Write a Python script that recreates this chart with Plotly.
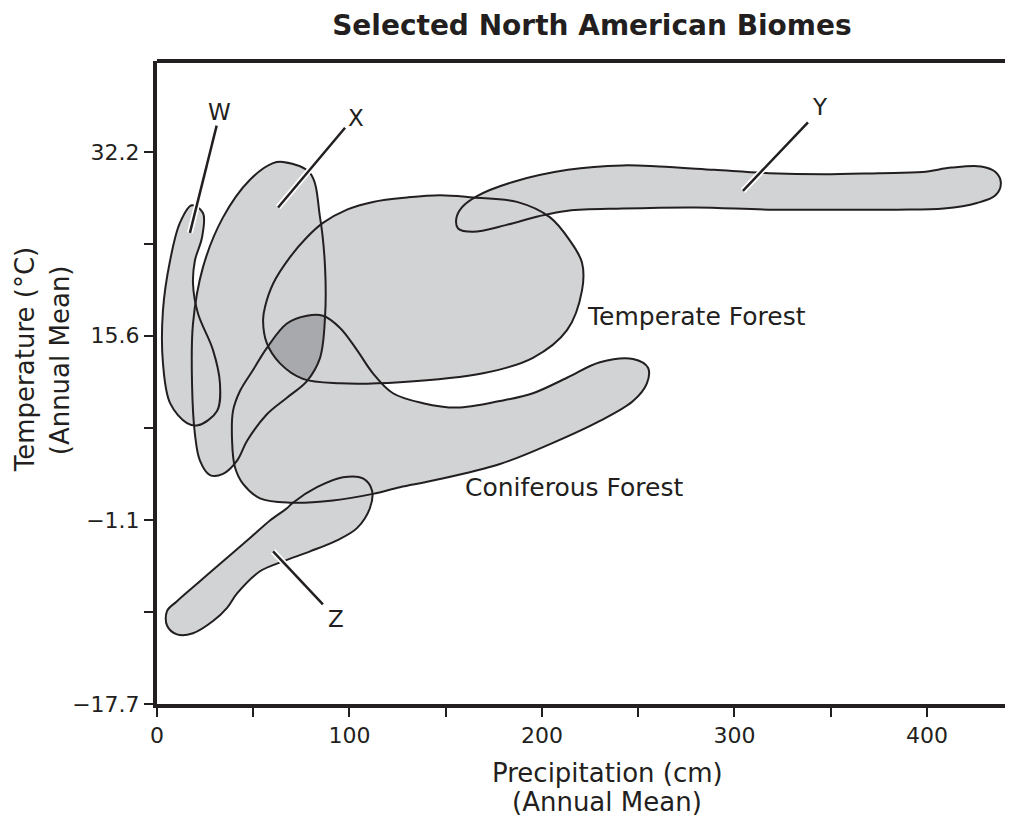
import plotly.graph_objects as go

# biome outlines: precipitation (cm), temperature (deg C)
w_precip = [18.0, 23.9, 23.4, 19.7, 18.7, 21.3, 29.1, 32.7, 31.2, 21.3, 15.6, 6.8, 3.1, 3.1, 6.8, 11.9, 18.0]
w_temp = [27.4, 26.7, 24.5, 22.4, 20.3, 17.6, 14.3, 11.3, 8.8, 7.5, 7.7, 9.5, 13.1, 17.9, 22.4, 25.8, 27.4]

x_precip = [65.5, 79.5, 84.7, 87.3, 87.3, 84.7, 77.9, 67.5, 57.1, 46.8, 41.6, 34.3, 27.5, 22.3, 19.7,
            18.2, 18.7, 23.9, 34.3, 48.3, 60.3, 65.5]
x_temp = [31.3, 30.3, 26.3, 21.8, 17.3, 13.6, 11.5, 10.0, 8.5, 6.1, 4.3, 3.1, 3.0, 4.3, 6.7,
          11.3, 16.7, 21.8, 26.3, 29.7, 31.2, 31.3]

y_precip = [166.0, 184.9, 213.5, 241.9, 260.8, 289.4, 317.9, 346.4, 374.9, 397.7, 412.8, 428.1, 435.6,
            438.4, 435.6, 426.0, 408.8, 384.4, 355.8, 317.9, 279.9, 241.9, 213.5, 198.3, 181.2,
            164.1, 156.4, 155.5, 158.4, 166.0]
y_temp = [28.2, 29.5, 30.6, 31.0, 30.9, 30.6, 30.3, 30.2, 30.3, 30.4, 30.8, 30.9, 30.4,
          29.4, 28.3, 27.6, 27.1, 27.0, 27.0, 27.0, 27.2, 27.1, 26.9, 26.4, 25.6,
          25.0, 25.3, 26.2, 27.2, 28.2]

z_precip = [70.6, 83.1, 96.6, 107.0, 111.7, 110.6, 103.9, 93.5, 79.5, 65.5, 53.5, 41.6, 36.4, 29.1,
            18.7, 10.4, 5.2, 5.2, 10.4, 22.3, 34.3, 48.3, 58.7, 67.5, 70.6]
z_temp = [0.5, 1.9, 2.8, 2.7, 1.6, 0.0, -1.8, -2.9, -3.9, -4.8, -5.7, -7.7, -9.0, -10.2,
          -11.3, -11.4, -10.6, -9.3, -8.4, -6.6, -4.8, -2.7, -1.1, 0.0, 0.5]

temperate_precip = [147.0, 164.2, 187.0, 204.2, 214.5, 220.8, 220.8, 213.0, 195.3, 169.4, 126.2, 95.1,
                    75.8, 63.9, 57.1, 55.1, 56.1, 60.3, 69.1, 77.9, 86.2, 98.7, 112.2, 129.9, 147.0]
temperate_temp = [28.3, 28.1, 27.7, 26.3, 24.2, 22.2, 19.7, 16.1, 13.6, 12.2, 11.4, 11.3,
                  11.7, 13.1, 14.9, 17.0, 18.2, 20.3, 22.7, 24.5, 25.8, 27.0, 27.7, 28.1, 28.3]

conifer_precip = [39.0, 39.5, 43.1, 49.9, 57.1, 67.5, 77.9, 86.2, 95.1, 103.9, 112.2, 122.6, 138.2,
                  155.8, 178.2, 195.3, 213.0, 230.1, 247.3, 255.1, 254.5, 247.3, 230.1, 204.2,
                  178.2, 143.4, 126.2, 112.2, 91.4, 69.1, 53.5, 44.7, 40.5, 39.0]
conifer_temp = [6.1, 8.8, 10.6, 12.5, 14.5, 16.7, 17.4, 17.4, 16.3, 14.3, 12.2, 10.4, 9.5,
                9.1, 9.7, 10.4, 11.8, 13.2, 13.5, 12.7, 11.3, 9.7, 7.9, 5.8,
                4.0, 2.5, 1.9, 1.3, 0.7, 0.5, 0.9, 2.2, 3.7, 6.1]

# region shared by X, temperate and coniferous forest (darker shade)
overlap_precip = [57.7, 63.9, 72.7, 81.0, 86.8, 86.2, 83.6, 78.4, 69.1, 62.3, 57.7]
overlap_temp = [14.7, 16.1, 17.3, 17.5, 17.3, 14.9, 13.1, 11.6, 12.2, 13.4, 14.7]

# leader lines for the letter labels: (precip start, precip end), (temp start, temp end), label pos
leaders = {
    "W": ([17.1, 31.0], [24.9, 34.6], (32.7, 35.8)),
    "X": ([62.9, 97.7], [27.2, 34.4], (103.4, 35.3)),
    "Y": ([304.4, 338.2], [28.7, 34.9], (344.4, 36.3)),
    "Z": ([60.3, 86.2], [-3.9, -8.7], (93.0, -10.0)),
}

y_ticks = [-17.7, -9.4, -1.1, 7.25, 15.6, 23.9, 32.2]
y_ticktext = ["\u221217.7", "", "\u22121.1", "", "15.6", "", "32.2"]
x_ticks = [0, 50, 100, 150, 200, 250, 300, 350, 400]
x_ticktext = ["0", "", "100", "", "200", "", "300", "", "400"]

LIGHT = "#d1d3d4"
DARK = "#a7a9ac"
INK = "#231f20"
FONT = "DejaVu Sans"

shapes = [
    (w_precip, w_temp),
    (x_precip, x_temp),
    (y_precip, y_temp),
    (z_precip, z_temp),
    (temperate_precip, temperate_temp),
    (conifer_precip, conifer_temp),
]

fig = go.Figure()

# fills first so every outline stays visible on top
for px_, ty in shapes:
    fig.add_trace(go.Scatter(x=px_, y=ty, mode="lines", fill="toself", fillcolor=LIGHT,
                             line=dict(width=0, shape="spline", smoothing=1), hoverinfo="skip"))
fig.add_trace(go.Scatter(x=overlap_precip, y=overlap_temp, mode="lines", fill="toself",
                         fillcolor=DARK, line=dict(width=0, shape="spline", smoothing=0.6),
                         hoverinfo="skip"))
for px_, ty in shapes:
    fig.add_trace(go.Scatter(x=px_, y=ty, mode="lines",
                             line=dict(color=INK, width=2, shape="spline", smoothing=1),
                             hoverinfo="skip"))

annotations = []
for name, (lx, ly, pos) in leaders.items():
    fig.add_trace(go.Scatter(x=lx, y=ly, mode="lines", line=dict(color="white", width=6),
                             hoverinfo="skip"))
    fig.add_trace(go.Scatter(x=lx, y=ly, mode="lines", line=dict(color=INK, width=2.5),
                             hoverinfo="skip"))
    annotations.append(dict(x=pos[0], y=pos[1], text=name, showarrow=False,
                            font=dict(family=FONT, size=23, color=INK)))


def label(text, size=25, **kw):
    return dict(text=text, showarrow=False, font=dict(family=FONT, size=size, color=INK), **kw)


annotations += [
    label("Temperate Forest", x=222.5, y=17.3, xanchor="left"),
    label("Coniferous Forest", x=159.0, y=1.9, xanchor="left"),
    label("Precipitation (cm)", size=26, x=234, y=-0.107, yref="paper",
          xanchor="center", yanchor="middle"),
    label("(Annual Mean)", size=26, x=234, y=-0.152, yref="paper",
          xanchor="center", yanchor="middle"),
    label("Temperature (\u00b0C)", size=26, x=-0.154, y=0.535, xref="paper", yref="paper",
          textangle=-90, xanchor="center", yanchor="middle"),
    label("(Annual Mean)", size=26, x=-0.113, y=0.535, xref="paper", yref="paper",
          textangle=-90, xanchor="center", yanchor="middle"),
]

# page body has an 8px margin, so the figure is 8px smaller than the window
fig.update_layout(
    width=1005,
    height=808,
    margin=dict(l=149, r=0, t=53, b=112),
    plot_bgcolor="white",
    paper_bgcolor="white",
    showlegend=False,
    title=dict(text="<b>Selected North American Biomes</b>", x=0.581, xanchor="center",
               y=0.979, yanchor="middle", font=dict(family=FONT, size=28, color=INK)),
    annotations=annotations,
    shapes=[dict(type="line", xref="paper", yref="paper", x0=0, x1=1, y0=1, y1=1,
                 line=dict(color=INK, width=4))],
)
fig.update_xaxes(range=[0, 444.7], tickvals=x_ticks, ticktext=x_ticktext, ticks="outside",
                 ticklen=9, tickwidth=2, tickcolor=INK, showline=True, linewidth=4, linecolor=INK,
                 showgrid=False, zeroline=False,
                 tickfont=dict(family=FONT, size=22, color=INK))
fig.update_yaxes(range=[-17.7, 40.44], tickvals=y_ticks, ticktext=y_ticktext, ticks="outside",
                 ticklen=9, tickwidth=2, tickcolor=INK, showline=True, linewidth=4, linecolor=INK,
                 showgrid=False, zeroline=False,
                 tickfont=dict(family=FONT, size=22, color=INK))

fig.write_html("out.html")
